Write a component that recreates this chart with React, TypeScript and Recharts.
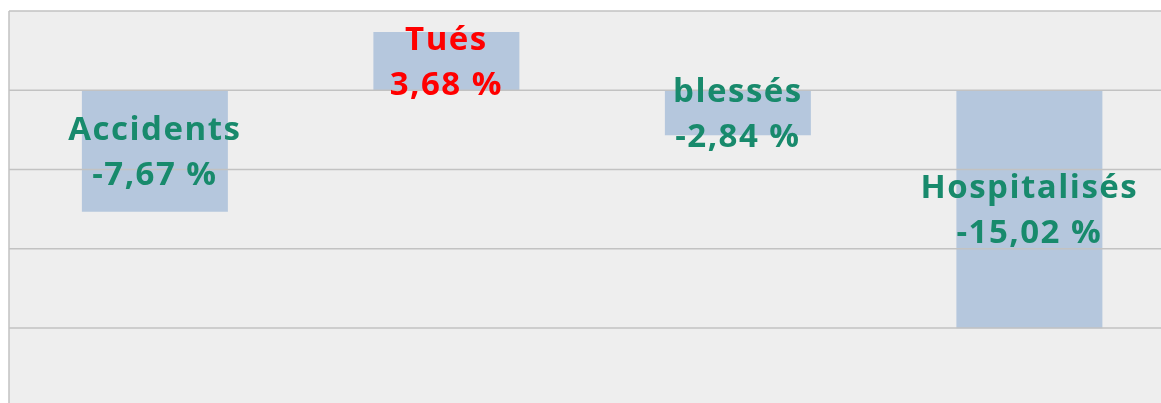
import { BarChart, Bar, XAxis, YAxis, CartesianGrid, LabelList, ReferenceLine } from 'recharts';

const categories = ['Accidents', 'Tués', 'blessés', 'Hospitalisés'];
const variations = [-7.67, 3.68, -2.84, -15.02];
const valueLabels = ['-7,67 %', '3,68 %', '-2,84 %', '-15,02 %'];
const labelColors = ['#188a6c', '#ff0000', '#188a6c', '#188a6c'];
const yTicks = [5, 0, -5, -10, -15];

const data = categories.map((name, i) => ({
  name,
  value: variations[i],
  label: valueLabels[i],
  color: labelColors[i],
}));

const TwoLineLabel = (props: any) => {
  const { x, y, width, height, index } = props;
  const d = data[index];
  const cx = x + width / 2;
  const cy = y + height / 2;
  return (
    <text
      x={cx}
      y={cy}
      textAnchor="middle"
      fill={d.color}
      fontFamily="'Open Sans', sans-serif"
      fontWeight={700}
      fontSize={33}
      letterSpacing={1.5}
    >
      <tspan x={cx} dy={-11}>{d.name}</tspan>
      <tspan x={cx} dy={45}>{d.label}</tspan>
    </text>
  );
};

export default function App() {
  return (
    <div
      style={{
        position: 'fixed',
        left: 8,
        top: 8,
        width: 1153,
        height: 395,
        overflow: 'hidden',
      }}
    >
      <BarChart
        width={1167}
        height={400}
        data={data}
        margin={{ top: 3, right: 0, bottom: 0, left: 0 }}
        barCategoryGap="25%"
      >
        <CartesianGrid vertical={false} horizontal={false} fill="#eeeeee" />
        <XAxis dataKey="name" hide />
        <YAxis
          width={1}
          domain={[-20.05, 5]}
          ticks={yTicks}
          allowDataOverflow
          tick={false}
          tickLine={false}
          axisLine={{ stroke: '#c2c2c2', strokeWidth: 1.5 }}
        />
        {yTicks.map((v) => (
          <ReferenceLine key={v} y={v} stroke="#c2c2c2" strokeWidth={1.5} />
        ))}
        <Bar dataKey="value" fill="#b5c7dd" isAnimationActive={false}>
          <LabelList dataKey="value" content={<TwoLineLabel />} />
        </Bar>
      </BarChart>
    </div>
  );
}
